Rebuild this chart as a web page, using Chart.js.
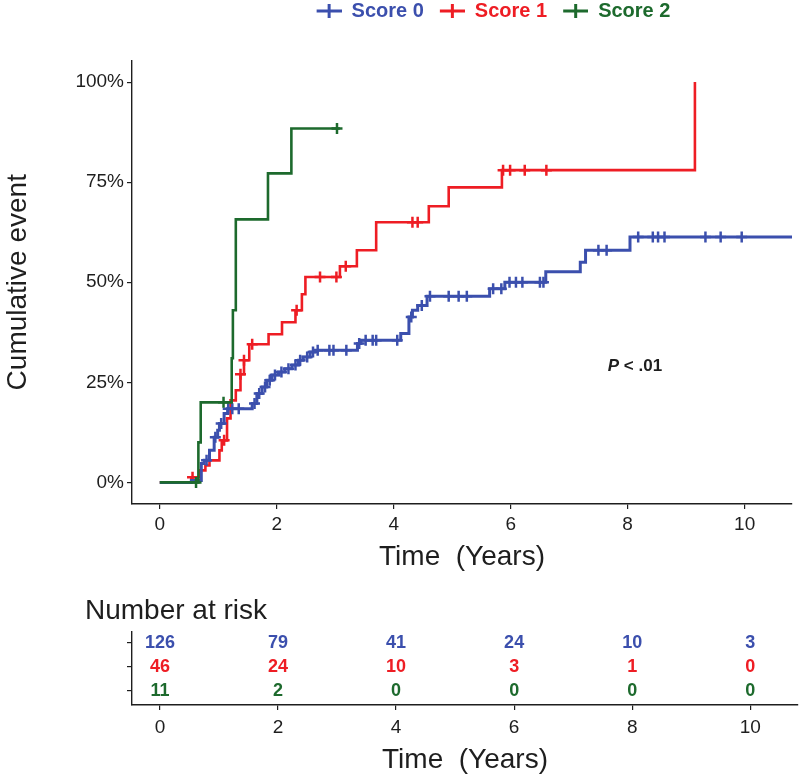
<!DOCTYPE html>
<html>
<head>
<meta charset="utf-8">
<title>Cumulative event by score</title>
<script src="https://cdn.jsdelivr.net/npm/chart.js@4.4.1/dist/chart.umd.min.js"></script>
<style>
    html, body { margin: 0; padding: 0; background: #ffffff; overflow: hidden; }
    #mainChart { position: absolute; left: 0; top: 0; }
    #riskChart { position: absolute; left: 0; top: 580px; }
</style>
</head>
<body>
<canvas id="mainChart" width="800" height="580"></canvas>
<canvas id="riskChart" width="800" height="200"></canvas>
<script>
// Colours and fonts
const BLUE = '#3b4fad';
const RED = '#ee1d24';
const GREEN = '#1d6a2d';
const INK = '#1e1e1e';
const FONT = "'Liberation Sans', Arial, sans-serif";

const seriesNames = ['Score 0', 'Score 1', 'Score 2'];
const seriesColors = [BLUE, RED, GREEN];

const xTicks = [0, 2, 4, 6, 8, 10];
const yTicks = [0, 25, 50, 75, 100];
const xMin = -0.475;
const xMax = 10.81;

// Score 0: step times (years) and cumulative event (%)
const score0Time = [0, 0.54, 0.71, 0.76, 0.85, 0.93, 0.99, 1.02, 1.10, 1.16, 1.58, 1.66, 1.75, 1.83, 1.92, 2.03, 2.14, 2.26, 2.37, 2.45, 2.57, 2.65, 3.38, 3.44, 4.12, 4.26, 4.32, 4.41, 4.57, 5.64, 5.90, 6.60, 7.19, 7.28, 8.04, 11.0];
const score0Cum = [0, 0.5, 4.7, 5.5, 8.0, 11.3, 13.0, 14.7, 17.2, 18.4, 19.7, 22.2, 23.8, 25.5, 26.8, 27.6, 28.4, 29.3, 30.5, 31.3, 32.6, 33.0, 34.7, 35.5, 37.2, 41.3, 43.0, 44.2, 46.5, 48.4, 50.0, 52.6, 55.0, 58.0, 61.3, 61.3];
const score0Censor = [0.80, 0.95, 1.05, 1.17, 1.24, 1.35, 1.62, 1.70, 1.80, 1.88, 1.97, 2.08, 2.20, 2.32, 2.40, 2.52, 2.62, 2.70, 2.90, 2.97, 3.19, 3.41, 3.52, 3.64, 3.70, 4.06, 4.30, 4.48, 4.62, 4.94, 5.11, 5.25, 5.70, 5.84, 5.98, 6.09, 6.20, 6.50, 6.56, 7.50, 7.64, 8.18, 8.43, 8.52, 8.63, 9.33, 9.59, 9.95];

// Score 1
const score1Time = [0, 0.54, 0.68, 0.78, 0.85, 1.02, 1.06, 1.15, 1.21, 1.30, 1.38, 1.44, 1.53, 1.86, 2.09, 2.32, 2.43, 2.49, 3.08, 3.37, 3.70, 4.60, 4.94, 5.85, 9.15];
const score1Cum = [0, 1.3, 3.0, 4.2, 5.5, 8.0, 10.5, 16.0, 20.5, 23.0, 27.0, 30.5, 34.5, 37.0, 40.0, 43.0, 47.0, 51.3, 54.0, 58.0, 65.0, 69.0, 73.7, 78.0, 100];
const score1Censor = [0.56, 1.10, 1.38, 1.44, 1.58, 2.34, 2.74, 3.02, 3.18, 4.32, 4.41, 5.87, 5.99, 6.24, 6.61];

// Score 2
const score2Time = [0, 0.66, 0.70, 1.23, 1.25, 1.30, 1.85, 2.25, 3.08];
const score2Cum = [0, 10.0, 20.0, 31.0, 43.0, 65.7, 77.2, 88.4, 88.4];
const score2Censor = [0.62, 1.09, 3.03];

// Number at risk table
const riskTimes = [0, 2, 4, 6, 8, 10];
const risk0 = [126, 79, 41, 24, 10, 3];
const risk1 = [46, 24, 10, 3, 1, 0];
const risk2 = [11, 2, 0, 0, 0, 0];

// Log-rank annotation
const pValueText = '< .01';
const pValueAt = { x: 7.66, y: 29 };

function toPoints(times, cums) {
    return times.map((t, i) => ({ x: t, y: cums[i] }));
}

// level of the step curve at time t (used to sit the censor marks on the curve)
function levelAt(times, cums, t) {
    let level = cums[0];
    for (let i = 0; i < times.length; i++) {
        if (times[i] <= t) level = cums[i];
    }
    return level;
}

function censorPoints(times, cums, censor) {
    return censor.map(t => ({ x: t, y: levelAt(times, cums, t) }));
}

function stepDataset(label, color, times, cums, width) {
    return {
        label: label,
        data: toPoints(times, cums),
        borderColor: color,
        borderWidth: width,
        stepped: true,
        pointRadius: 0,
        fill: false
    };
}

function censorDataset(label, color, times, cums, censor) {
    return {
        label: label + ' censored',
        data: censorPoints(times, cums, censor),
        showLine: false,
        pointStyle: 'cross',
        pointRadius: 5.5,
        pointBorderWidth: 2.5,
        borderColor: color,
        backgroundColor: color
    };
}

// Legend icon: short line with a cross, with blank space on the left as gap
function legendIcon(color) {
    const c = document.createElement('canvas');
    c.width = 40;
    c.height = 16;
    const g = c.getContext('2d');
    g.strokeStyle = color;
    g.lineWidth = 3;
    g.beginPath();
    g.moveTo(15, 8);
    g.lineTo(40, 8);
    g.moveTo(27.5, 1);
    g.lineTo(27.5, 15);
    g.stroke();
    return c;
}

// Move the legend so it is centred where the original figure had it
const legendShift = {
    id: 'legendShift',
    afterLayout(chart) {
        chart.legend.left += 87;
        chart.legend.right += 87;
    }
};

const pValueLabel = {
    id: 'pValueLabel',
    afterDatasetsDraw(chart) {
        const { ctx, scales } = chart;
        const px = scales.x.getPixelForValue(pValueAt.x);
        const py = scales.y.getPixelForValue(pValueAt.y);
        ctx.save();
        ctx.fillStyle = INK;
        ctx.textAlign = 'left';
        ctx.textBaseline = 'middle';
        ctx.font = `italic bold 17px ${FONT}`;
        ctx.fillText('P', px, py);
        const w = ctx.measureText('P ').width;
        ctx.font = `bold 17px ${FONT}`;
        ctx.fillText(pValueText, px + w, py);
        ctx.restore();
    }
};

const riskNumbers = {
    id: 'riskNumbers',
    afterDatasetsDraw(chart) {
        const ctx = chart.ctx;
        ctx.save();
        ctx.font = `bold 18px ${FONT}`;
        ctx.textAlign = 'center';
        ctx.textBaseline = 'middle';
        chart.data.datasets.forEach((ds, i) => {
            const meta = chart.getDatasetMeta(i);
            ctx.fillStyle = ds.textColor;
            meta.data.forEach((pt, j) => {
                ctx.fillText(String(ds.data[j].n), pt.x, pt.y);
            });
        });
        ctx.restore();
    }
};

const axisFont = { family: FONT, size: 19 };
const titleFont = { family: FONT, size: 28 };

// Main cumulative incidence chart
new Chart(document.getElementById('mainChart'), {
    type: 'line',
    data: {
        datasets: [
            stepDataset('Score 2', GREEN, score2Time, score2Cum, 2.6),
            censorDataset('Score 2', GREEN, score2Time, score2Cum, score2Censor),
            stepDataset('Score 0', BLUE, score0Time, score0Cum, 3),
            censorDataset('Score 0', BLUE, score0Time, score0Cum, score0Censor),
            stepDataset('Score 1', RED, score1Time, score1Cum, 2.6),
            censorDataset('Score 1', RED, score1Time, score1Cum, score1Censor)
        ]
    },
    options: {
        responsive: false,
        animation: false,
        events: [],
        layout: { padding: { left: 0, right: 2, top: 0, bottom: 0 } },
        scales: {
            x: {
                type: 'linear',
                min: xMin,
                max: xMax,
                afterBuildTicks: scale => { scale.ticks = xTicks.map(v => ({ value: v })); },
                afterFit: scale => { scale.height = 76; },
                grid: { drawOnChartArea: false, color: INK, tickLength: 5, lineWidth: 1.2 },
                border: { color: INK, width: 1.4 },
                ticks: { color: INK, font: axisFont, padding: 4, maxRotation: 0 },
                title: { display: true, text: 'Time  (Years)', color: INK, font: titleFont, padding: { top: 0, bottom: 6 } }
            },
            y: {
                min: -5.4,
                max: 105.4,
                afterBuildTicks: scale => { scale.ticks = yTicks.map(v => ({ value: v })); },
                afterFit: scale => { scale.width = 132; },
                grid: { drawOnChartArea: false, color: INK, tickLength: 5, lineWidth: 1.2 },
                border: { color: INK, width: 1.4 },
                ticks: { color: INK, font: axisFont, padding: 3, callback: v => v + '%' },
                title: { display: true, text: 'Cumulative event', color: INK, font: titleFont, padding: { top: 1, bottom: 0 } }
            }
        },
        plugins: {
            legend: {
                position: 'top',
                weight: 3000,
                onClick: null,
                labels: {
                    usePointStyle: true,
                    pointStyleWidth: 40,
                    padding: 1,
                    font: { family: FONT, size: 20, weight: 'bold' },
                    generateLabels: () => seriesNames.map((name, i) => ({
                        text: name,
                        fontColor: seriesColors[i],
                        fillStyle: seriesColors[i],
                        strokeStyle: seriesColors[i],
                        lineWidth: 0,
                        pointStyle: legendIcon(seriesColors[i]),
                        rotation: 0,
                        hidden: false,
                        datasetIndex: i
                    }))
                }
            },
            // blank title used as spacing between legend and plot
            title: {
                display: true,
                text: ' ',
                weight: 100,
                font: { size: 10 },
                padding: { top: 17.5, bottom: 0 }
            },
            tooltip: { enabled: false }
        }
    },
    plugins: [legendShift, pValueLabel]
});

function riskDataset(values, row, color) {
    return {
        data: riskTimes.map((t, j) => ({ x: t, y: row, n: values[j] })),
        textColor: color,
        pointRadius: 0,
        showLine: false
    };
}

// Number at risk table
new Chart(document.getElementById('riskChart'), {
    type: 'scatter',
    data: {
        datasets: [
            riskDataset(risk0, 3, BLUE),
            riskDataset(risk1, 2, RED),
            riskDataset(risk2, 1, GREEN)
        ]
    },
    options: {
        responsive: false,
        animation: false,
        events: [],
        layout: { padding: { left: 85, right: 2, top: 0, bottom: 0 } },
        scales: {
            x: {
                type: 'linear',
                min: xMin,
                max: xMax,
                afterBuildTicks: scale => { scale.ticks = xTicks.map(v => ({ value: v })); },
                afterFit: scale => { scale.height = 75; },
                grid: { drawOnChartArea: false, color: INK, tickLength: 5, lineWidth: 1.2 },
                border: { color: INK, width: 1.4 },
                ticks: { color: INK, font: axisFont, padding: 6, maxRotation: 0 },
                title: { display: true, text: 'Time  (Years)', color: INK, font: titleFont, padding: { top: 0, bottom: 3 } }
            },
            y: {
                min: 0.42,
                max: 3.46,
                afterBuildTicks: scale => { scale.ticks = [1, 2, 3].map(v => ({ value: v })); },
                afterFit: scale => { scale.width = 47; },
                grid: { drawOnChartArea: false, color: INK, tickLength: 5, lineWidth: 1.2 },
                border: { color: INK, width: 1.4 },
                ticks: { callback: () => '' }
            }
        },
        plugins: {
            legend: { display: false },
            title: {
                display: true,
                text: 'Number at risk',
                align: 'start',
                color: INK,
                font: { family: FONT, size: 28, weight: 'normal' },
                padding: { top: 14, bottom: 4.4 }
            },
            tooltip: { enabled: false }
        }
    },
    plugins: [riskNumbers]
});
</script>
</body>
</html>
